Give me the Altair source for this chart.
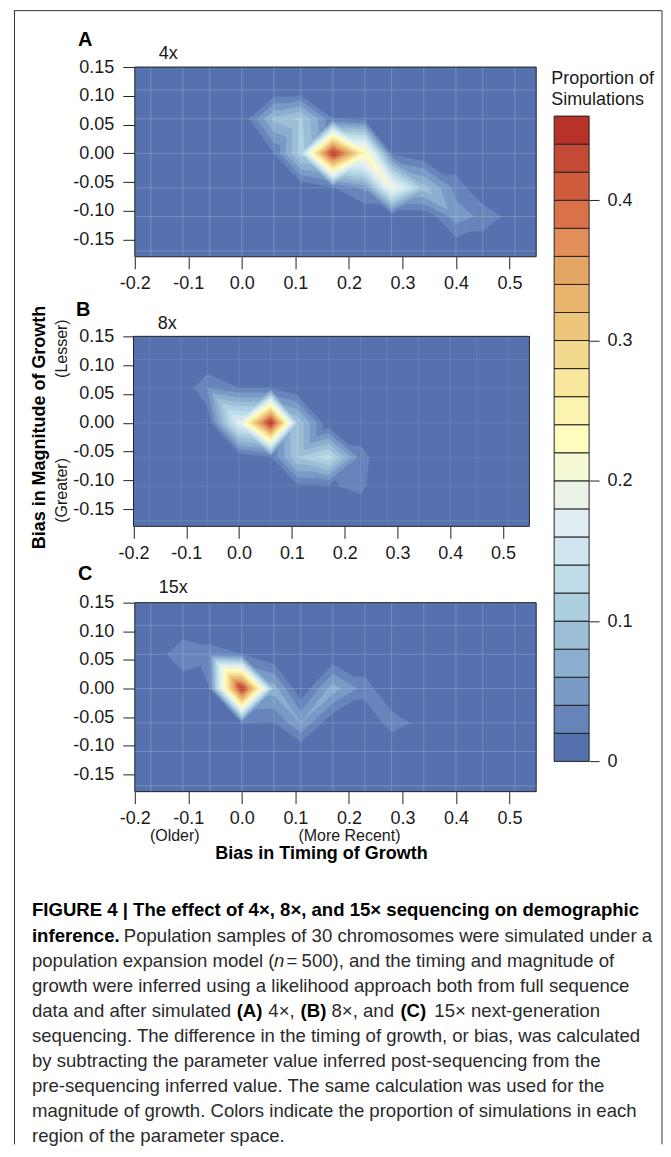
import altair as alt
import pandas as pd

FONT = "Liberation Sans"
GRID_X = [-0.17, -0.11, -0.06, 0.0, 0.06, 0.11, 0.17, 0.23, 0.28, 0.34, 0.40, 0.45, 0.51]
GRID_Y = [0.11, 0.06, 0.0, -0.06, -0.11, -0.17]

PANEL_A = [
    [0, 0, 0, 0, 0, 0, 0, 0, 0, 0, 0, 0, 0],
    [0, 0, 0, 0, .085, .105, .02, .01, 0, 0, 0, 0, 0],
    [0, 0, 0, 0, .02, .11, .455, .24, .017, 0, 0, 0, 0],
    [0, 0, 0, 0, 0, 0, .018, .045, .2, .09, .032, 0, 0],
    [0, 0, 0, 0, 0, 0, 0, 0, 0, 0, .05, .035, .009],
    [0, 0, 0, 0, 0, 0, 0, 0, 0, 0, 0, 0, 0],
]
PANEL_B = [
    [0, 0, 0, 0, 0, 0, 0, 0, 0, 0, 0, 0, 0],
    [0, 0, .04, .02, .02, 0, 0, 0, 0, 0, 0, 0, 0],
    [0, 0, 0, .17, .455, .1, 0, 0, 0, 0, 0, 0, 0],
    [0, 0, 0, 0, .018, .1, .13, .03, 0, 0, 0, 0, 0],
    [0, 0, 0, 0, 0, .015, .017, .026, 0, 0, 0, 0, 0],
    [0, 0, 0, 0, 0, 0, 0, 0, 0, 0, 0, 0, 0],
]
PANEL_C = [
    [0, 0, 0, 0, 0, 0, 0, 0, 0, 0, 0, 0, 0],
    [0, .04, .03, .02, 0, 0, 0, 0, 0, 0, 0, 0, 0],
    [0, 0, .02, .455, .07, 0, .07, .03, 0, 0, 0, 0, 0],
    [0, 0, 0, .02, .018, .06, 0, 0, .03, .012, 0, 0, 0],
    [0, 0, 0, 0, 0, 0, 0, 0, 0, 0, 0, 0, 0],
    [0, 0, 0, 0, 0, 0, 0, 0, 0, 0, 0, 0, 0],
]
BAND_COLORS = ["#5571AE", "#6785BB", "#789BC6", "#8CAED0", "#9CBFD6", "#ACD0E0", "#BEDDE8", "#D0E5F0",
               "#E1EFF4", "#EBF3E6", "#F4F8D5", "#FEFDBE", "#FBF3AF", "#F9E79E", "#F3D98D", "#EDC67C",
               "#E9B56E", "#E5A563", "#E28E58", "#DB7149", "#CF5B3D", "#C44A36", "#B9322A"]
BAND_STEP = 0.02
X_TICKS = [-0.2, -0.1, 0.0, 0.1, 0.2, 0.3, 0.4, 0.5]
Y_TICKS = [-0.15, -0.10, -0.05, 0.0, 0.05, 0.10, 0.15]
LEGEND_TICKS = [0, 0.1, 0.2, 0.3, 0.4]


def clip_tri(tri, level):
    out = []
    for i in range(3):
        a, b = tri[i], tri[(i + 1) % 3]
        ina, inb = a[2] >= level, b[2] >= level
        if ina:
            out.append(a[:2])
        if ina != inb:
            t = (level - a[2]) / (b[2] - a[2])
            out.append((a[0] + t * (b[0] - a[0]), a[1] + t * (b[1] - a[1])))
    return out


def contour_rows(values):
    rows, pid = [], 0
    tris = []
    for j in range(len(GRID_Y) - 1):
        for i in range(len(GRID_X) - 1):
            corners = [(GRID_X[i], GRID_Y[j], values[j][i]), (GRID_X[i + 1], GRID_Y[j], values[j][i + 1]),
                       (GRID_X[i + 1], GRID_Y[j + 1], values[j + 1][i + 1]), (GRID_X[i], GRID_Y[j + 1], values[j + 1][i])]
            zs = [c[2] for c in corners]
            if max(zs) < BAND_STEP:
                continue
            d02 = min(zs[0], zs[2]) > max(zs[1], zs[3])
            d13 = min(zs[1], zs[3]) > max(zs[0], zs[2])
            if d02:
                use02 = True
            elif d13:
                use02 = False
            else:
                m = zs.index(max(zs))
                use02 = m in (1, 3)  # diagonal that avoids the highest corner
            if use02:
                tris += [(corners[0], corners[1], corners[2]), (corners[0], corners[2], corners[3])]
            else:
                tris += [(corners[0], corners[1], corners[3]), (corners[1], corners[2], corners[3])]
    for k in range(1, len(BAND_COLORS)):
        level = k * BAND_STEP
        for tri in tris:
            poly = clip_tri(tri, level)
            if len(poly) < 3:
                continue
            pid += 1
            for n, (x, y) in enumerate(poly + poly[:1]):
                rows.append(dict(x=x, y=y, pid=pid, n=n, c=BAND_COLORS[k]))
    return pd.DataFrame(rows)


def txt(text, x, y, size=18, bold=False, italic=False, angle=0, align="left", color="#1a1a1a", font=FONT):
    kw = {}
    if bold:
        kw["fontWeight"] = "bold"
    if italic:
        kw["fontStyle"] = "italic"
    return alt.Chart(pd.DataFrame({"a": [0]})).mark_text(
        text=text, font=font, fontSize=size, align=align, baseline="alphabetic", angle=angle, color=color, **kw
    ).encode(x=alt.value(x), y=alt.value(y))


def panel(values, w, h, top, xr, texts, grid_op):
    xs = alt.Scale(domain=[-0.2, 0.55], range=xr, nice=False, zero=False)
    ys = alt.Scale(domain=[-0.18, 0.15], range=[h, top], nice=False, zero=False)
    xa = alt.Axis(values=X_TICKS, domain=False, grid=False, tickSize=12, tickColor="#222", tickWidth=1,
                  labelPadding=6, labelFontSize=18, labelFont=FONT, labelColor="#1a1a1a",
                  labelFlush=False, labelOverlap=False, title=None,
                  labelExpr="replace(format(datum.value,'.1f'),'\u2212','-')")
    ya = alt.Axis(values=Y_TICKS, domain=False, grid=False, tickSize=12, tickColor="#222", tickWidth=1,
                  labelPadding=9, labelFontSize=18, labelFont=FONT, labelColor="#1a1a1a",
                  labelOverlap=False, title=None,
                  labelExpr="replace(format(datum.value,'.2f'),'\u2212','-')")
    blank = pd.DataFrame({"a": [0]})
    bg = alt.Chart(blank).mark_rect(color=BAND_COLORS[0]).encode(
        x=alt.value(xr[0]), x2=alt.value(xr[1]), y=alt.value(top), y2=alt.value(h))
    poly = alt.Chart(contour_rows(values)).mark_line(strokeWidth=0.4, interpolate="linear").encode(
        x=alt.X("x:Q", scale=xs, axis=xa),
        y=alt.Y("y:Q", scale=ys, axis=ya),
        detail="pid:N", order="n:Q",
        fill=alt.Fill("c:N", scale=None), stroke=alt.Stroke("c:N", scale=None),
    )
    vrules = alt.Chart(pd.DataFrame({"gx": GRID_X})).mark_rule(color="white", opacity=grid_op, strokeWidth=1).encode(
        x=alt.X("gx:Q", scale=xs, axis=xa), y=alt.value(top), y2=alt.value(h))
    hrules = alt.Chart(pd.DataFrame({"gy": GRID_Y})).mark_rule(color="white", opacity=grid_op, strokeWidth=1).encode(
        y=alt.Y("gy:Q", scale=ys, axis=ya), x=alt.value(xr[0]), x2=alt.value(xr[1]))
    frame = alt.Chart(blank).mark_rect(fillOpacity=0, stroke="#222", strokeWidth=1).encode(
        x=alt.value(xr[0]), x2=alt.value(xr[1]), y=alt.value(top), y2=alt.value(h))
    return alt.layer(bg, poly, vrules, hrules, frame, *texts).properties(width=w, height=h)


# page positions converted to panel coordinates
def A(t, x, y, **k):
    return txt(t, x - 134, y - 65, **k)


def B(t, x, y, **k):
    return txt(t, x - 134, y - 330.7, **k)


def C(t, x, y, **k):
    return txt(t, x - 134, y - 600.7, **k)


CAP_SIZE = 18.6
LINE0, LINE_STEP = 915, 25.1
CAPTION = [
    (0, 31, "FIGURE 4 | The effect of 4\u00d7, 8\u00d7, and 15\u00d7 sequencing on demographic", True, False),
    (1, 31, "inference.", True, False),
    (1, 123, "Population samples of 30 chromosomes were simulated under a", False, False),
    (2, 31, "population expansion model (", False, False),
    (2, 273.5, "n", False, True),
    (2, 286, "=", False, False),
    (2, 301, "500), and the timing and magnitude of", False, False),
    (3, 31, "growth were inferred using a likelihood approach both from full sequence", False, False),
    (4, 31, "data and after simulated", False, False),
    (4, 236, "(A)", True, False),
    (4, 267.7, "4\u00d7,", False, False),
    (4, 300, "(B)", True, False),
    (4, 331, "8\u00d7, and", False, False),
    (4, 400, "(C)", True, False),
    (4, 434, "15\u00d7 next-generation", False, False),
    (5, 31, "sequencing. The difference in the timing of growth, or bias, was calculated", False, False),
    (6, 31, "by subtracting the parameter value inferred post-sequencing from the", False, False),
    (7, 31, "pre-sequencing inferred value. The same calculation was used for the", False, False),
    (8, 31, "magnitude of growth. Colors indicate the proportion of simulations in each", False, False),
    (9, 31, "region of the parameter space.", False, False),
]

one = pd.DataFrame({"a": [0]})
FRAME_RIGHT = 662
FRAME_BOTTOM = 1144
texts_a = [
    A("A", 77, 44, size=20, bold=True, color="black"),
    A("4x", 158, 57),
    alt.Chart(one).mark_rule(color="white", strokeWidth=0.01).encode(
        x=alt.value(8 - 134), y=alt.value(8 - 65), y2=alt.value(20 - 65)),
    alt.Chart(one).mark_rule(color="#333", strokeWidth=1).encode(
        x=alt.value(13 - 134), x2=alt.value(FRAME_RIGHT - 134), y=alt.value(8.5 - 65)),
    alt.Chart(one).mark_rule(color="#333", strokeWidth=1).encode(
        x=alt.value(13.5 - 134), y=alt.value(8.5 - 65), y2=alt.value(FRAME_BOTTOM - 65)),
    alt.Chart(one).mark_rule(color="#333", strokeWidth=1).encode(
        x=alt.value(FRAME_RIGHT - 134), y=alt.value(8.5 - 65), y2=alt.value(FRAME_BOTTOM - 65)),
]
texts_b = [
    B("B", 75, 314, size=20, bold=True, color="black"),
    B("8x", 157, 327),
    B("Bias in Magnitude of Growth", 44, 426, size=18, bold=True, angle=270, align="center", color="black"),
    B("(Lesser)", 66, 347, size=16, angle=270, align="center"),
    B("(Greater)", 66, 489, size=16, angle=270, align="center"),
]
texts_c = [
    C("C", 77, 578, size=20, bold=True, color="black"),
    C("15x", 158, 591),
    C("(Older)", 174, 839, size=16, align="center"),
    C("(More Recent)", 349, 839, size=16, align="center"),
    C("Bias in Timing of Growth", 321, 857, size=18, bold=True, align="center", color="black"),
] + [
    C(t, x, LINE0 + LINE_STEP * ln, size=CAP_SIZE, bold=b, italic=i, color="black" if b else "#2a2a2a")
    for ln, x, t, b, i in CAPTION
]

panel_a = panel(PANEL_A, 402, 190, 0, [0, 402], texts_a, 0.2)
panel_b = panel(PANEL_B, 396, 194.3, 4, [-1.3, 395.2], texts_b, 0.1)
panel_c = panel(PANEL_C, 402, 189.3, 0, [0, 402], texts_c, 0.2)

# the colour key is a fourth flush panel whose scale reaches back up the page
LEG_ORIGIN = 600.7 + 189.3 + 75.7
legend_df = pd.DataFrame({
    "lo": [i * BAND_STEP for i in range(len(BAND_COLORS))],
    "hi": [(i + 1) * BAND_STEP for i in range(len(BAND_COLORS))],
    "c": BAND_COLORS,
})
legend_bar = alt.Chart(legend_df).mark_rect(strokeWidth=1).encode(
    x=alt.value(420), x2=alt.value(455),
    y=alt.Y("lo:Q", scale=alt.Scale(domain=[0, 0.46], range=[759 - LEG_ORIGIN, 112.7 - LEG_ORIGIN], nice=False, zero=False),
            axis=alt.Axis(orient="right", values=LEGEND_TICKS, domain=False, grid=False, tickSize=10, tickColor="#222",
                          title=None, labelPadding=8, labelFontSize=18, labelFont=FONT, labelColor="#1a1a1a",
                          labelOverlap=False, labelExpr="datum.value==0?'0':format(datum.value,'.1f')")),
    y2="hi:Q",
    fill=alt.Fill("c:N", scale=None),
    stroke=alt.value("#222"),
)
legend = alt.layer(
    legend_bar,
    txt("Proportion of", 417, 81 - LEG_ORIGIN),
    txt("Simulations", 417, 102 - LEG_ORIGIN),
).properties(width=455, height=1)

chart = alt.vconcat(panel_a, panel_b, panel_c, legend, spacing=75.7, bounds="flush").properties(
    padding=0, background="white"
).configure_view(stroke=None)

chart.save("out.html", embed_options={"renderer": "svg", "actions": False})
